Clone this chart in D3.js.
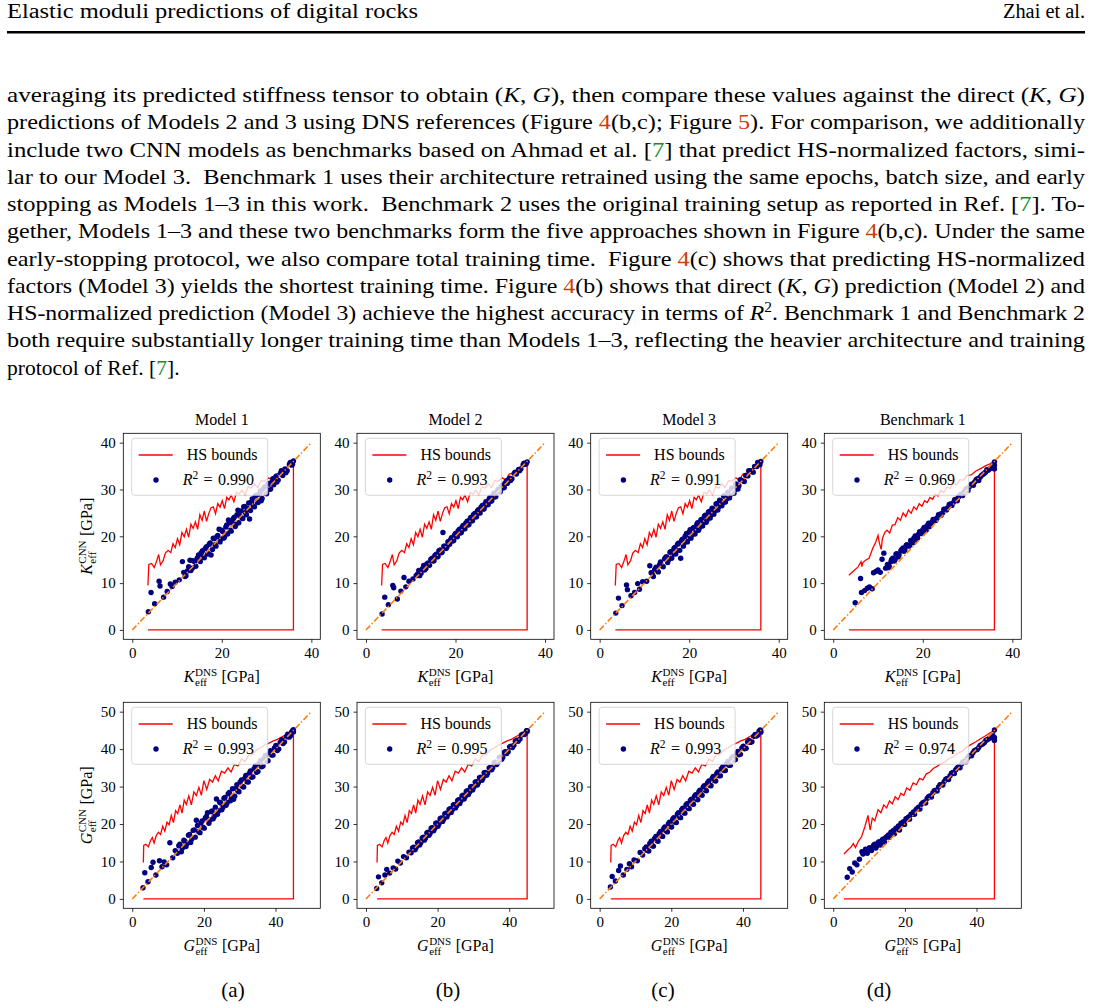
<!DOCTYPE html>
<html>
<head>
<meta charset="utf-8">
<script src="https://cdn.jsdelivr.net/npm/d3@7"></script>
<style>
  body { margin: 0; background: #fff; }
  svg { display: block; }
  text { font-family: "Liberation Serif", "DejaVu Serif", serif; fill: #000; white-space: pre; }
</style>
</head>
<body>
<svg id="page" width="1093" height="1008"></svg>
<script>

// ---- chart data ----

var colTitles = ['Model 1', 'Model 2', 'Model 3', 'Benchmark 1'];
var subLabels = ['(a)', '(b)', '(c)', '(d)'];
var r2K = ['0.990', '0.993', '0.991', '0.969'];
var r2G = ['0.993', '0.995', '0.993', '0.974'];

var kTicksX = [0, 20, 40];
var kTicksY = [0, 10, 20, 30, 40];
var gTicksX = [0, 20, 40];
var gTicksY = [0, 10, 20, 30, 40, 50];

var hsLower = 0; // lower HS bound of a porous rock

// bulk modulus, test set of Models 1-3
var kDns = [3.6, 4.2, 5.0, 6.0, 6.2, 7.0, 7.8, 8.5, 8.9, 9.6,
  10.5, 11.2, 11.8, 12.3, 12.9, 13.4, 13.9, 14.5, 15.0, 15.4,
  15.9, 16.3, 16.8, 17.2, 17.6, 18.1, 18.5, 18.9, 19.4, 19.8,
  20.2, 20.6, 21.1, 21.5, 21.9, 22.3, 22.8, 23.2, 23.6, 24.0,
  24.5, 24.9, 25.3, 25.7, 26.2, 26.6, 27.0, 27.5, 27.9, 28.4,
  28.8, 29.3, 29.7, 30.2, 30.6, 31.1, 31.6, 32.1, 32.6, 33.1,
  33.6, 34.1, 34.6, 35.1, 35.6, 36.0];
var kCnnModel1 = [3.9, 8.0, 5.6, 10.4, 9.4, 7.0, 8.2, 9.8, 9.3, 10.2,
  10.7, 14.6, 11.4, 12.6, 14.9, 13.2, 14.6, 15.3, 14.9, 16.5,
  15.6, 17.4, 16.2, 18.3, 16.0, 19.6, 18.2, 19.9, 21.5, 19.4,
  21.0, 19.8, 22.4, 23.5, 21.3, 22.9, 24.1, 22.6, 25.6, 24.4,
  23.9, 26.3, 25.1, 26.0, 23.7, 27.3, 26.5, 28.6, 27.4, 29.0,
  27.6, 30.1, 29.2, 30.9, 30.0, 31.5, 31.0, 32.8, 32.0, 33.5,
  33.0, 34.4, 34.0, 35.4, 35.2, 36.1];
var kCnnModel2 = [3.4, 7.0, 5.4, 9.5, 9.0, 6.6, 8.3, 11.2, 9.2, 10.4,
  10.9, 11.6, 12.7, 12.1, 13.8, 13.1, 14.3, 15.1, 14.7, 15.9,
  15.6, 16.9, 16.5, 20.8, 17.9, 17.7, 18.9, 19.3, 19.0, 20.3,
  20.0, 21.2, 20.7, 22.0, 21.6, 22.8, 22.4, 23.6, 23.3, 24.6,
  24.1, 25.4, 25.0, 26.2, 25.8, 26.9, 26.7, 27.9, 27.5, 28.9,
  28.4, 29.6, 29.5, 30.6, 30.3, 31.4, 31.3, 32.4, 32.3, 33.4,
  33.3, 34.3, 34.4, 35.3, 35.4, 35.9];
var kCnnModel3 = [3.6, 6.8, 5.2, 9.6, 8.6, 7.3, 8.0, 9.9, 8.7, 10.3,
  10.4, 13.7, 12.2, 12.9, 12.6, 14.0, 13.7, 15.2, 15.6, 15.0,
  16.7, 16.1, 17.6, 16.9, 18.5, 15.3, 19.4, 18.6, 20.6, 19.5,
  21.4, 20.3, 21.9, 21.2, 22.9, 21.8, 23.6, 23.0, 24.5, 23.5,
  25.3, 24.6, 25.9, 25.4, 27.0, 26.3, 27.6, 27.1, 28.6, 28.0,
  29.4, 29.0, 30.2, 29.9, 31.1, 30.8, 32.0, 31.8, 33.0, 32.9,
  34.0, 33.8, 34.9, 34.9, 35.7, 36.0];
// the dense middle of the same cloud
var kDnsDense = [11.5, 12.0, 12.6, 13.1, 13.6, 14.2, 14.8, 15.2, 15.7, 16.1,
  16.6, 17.0, 17.4, 17.9, 18.3, 18.7, 19.1, 19.6, 20.0, 20.4,
  20.9, 21.3, 21.7, 22.1, 22.6, 23.0, 23.4, 23.8, 24.3, 24.7,
  25.1, 25.5, 26.0, 26.4, 26.8, 27.3, 27.7, 28.1, 28.6, 29.0,
  29.5, 30.0, 30.4, 30.9, 31.4, 32.3, 33.3, 34.3, 35.3, 35.8];
var kCnnModel1Dense = [12.3, 11.6, 13.5, 12.7, 14.8, 13.6, 16.0, 14.6, 16.9, 15.4,
  17.8, 16.3, 18.6, 17.2, 19.5, 17.9, 20.2, 18.8, 21.3, 19.6,
  22.0, 20.5, 22.9, 21.1, 23.8, 22.1, 24.6, 22.9, 25.4, 23.8,
  26.4, 24.6, 27.1, 25.5, 28.0, 26.3, 28.8, 27.2, 29.7, 28.1,
  30.5, 29.1, 31.3, 30.1, 32.3, 31.6, 34.0, 33.6, 35.8, 35.4];
var kCnnModel2Dense = [11.9, 11.6, 13.1, 12.8, 14.1, 13.8, 15.3, 14.8, 16.2, 15.7,
  17.1, 16.6, 17.9, 17.4, 18.8, 18.3, 19.7, 19.1, 20.6, 19.9,
  21.5, 20.8, 22.3, 21.6, 23.2, 22.5, 24.0, 23.3, 24.9, 24.2,
  25.7, 25.0, 26.6, 25.9, 27.4, 26.8, 28.3, 27.6, 29.2, 28.5,
  30.0, 29.5, 30.9, 30.4, 31.9, 31.9, 33.7, 34.0, 35.6, 35.5];
var kCnnModel3Dense = [12.2, 11.4, 13.4, 12.4, 14.5, 13.5, 15.6, 14.4, 16.6, 15.3,
  17.4, 16.2, 18.3, 17.0, 19.1, 17.9, 20.0, 18.8, 20.9, 19.6,
  21.8, 20.5, 22.6, 21.3, 23.5, 22.2, 24.3, 23.0, 25.2, 23.9,
  26.0, 24.7, 26.9, 25.6, 27.7, 26.5, 28.6, 27.3, 29.4, 28.2,
  30.3, 29.2, 31.2, 30.1, 32.1, 31.7, 34.0, 33.7, 35.8, 35.3];
var hsKx = [3.5, 3.7, 4.3, 4.9, 5.4, 5.9, 6.3, 6.9, 7.4, 8.0,
  8.6, 9.1, 9.6, 10.1, 10.6, 11.1, 11.6, 12.1, 12.6, 13.1,
  13.6, 14.1, 14.6, 15.1, 15.6, 16.1, 16.6, 17.1, 17.6, 18.1,
  18.6, 19.1, 19.6, 20.1, 20.6, 21.1, 21.6, 22.1, 22.7, 23.3,
  23.9, 24.5, 25.2, 25.9, 26.6, 27.3, 28.0, 28.8, 29.6, 30.4,
  31.2, 32.0, 32.9, 33.8, 34.9, 36.0];
var hsKUpper = [9.5, 14.0, 14.2, 13.3, 14.6, 16.1, 13.9, 14.8, 16.4, 17.0,
  16.5, 18.4, 17.6, 19.5, 18.2, 20.8, 19.9, 21.5, 19.8, 22.6,
  21.7, 23.1, 21.5, 24.6, 23.4, 25.4, 23.2, 24.9, 26.1, 26.3,
  24.8, 27.0, 26.2, 27.6, 25.9, 28.3, 27.8, 28.8, 27.4, 29.4,
  29.0, 29.9, 28.8, 30.6, 30.3, 31.2, 30.4, 31.9, 31.8, 32.5,
  32.0, 33.3, 33.5, 34.3, 35.0, 36.0];

// bulk modulus, Benchmark 1
var kDnsBench = [4.9, 6.1, 6.3, 7.0, 7.6, 8.1, 8.7, 9.0, 9.5, 10.0,
  10.5, 10.9, 11.3, 11.7, 12.1, 12.5, 12.9, 13.3, 13.8, 14.2,
  14.7, 15.1, 15.6, 16.0, 16.5, 17.0, 17.5, 18.0, 18.5, 19.0,
  19.5, 20.0, 20.5, 21.0, 21.5, 22.0, 22.6, 23.2, 23.8, 24.4,
  25.0, 25.6, 26.2, 26.8, 27.4, 28.0, 28.6, 29.2, 29.8, 30.4,
  31.0, 31.6, 32.2, 32.8, 33.4, 34.0, 34.6, 35.2, 35.8, 36.0];
var kCnnBench1 = [5.8, 11.0, 8.0, 8.4, 8.9, 9.2, 8.8, 12.2, 12.5, 12.8,
  12.3, 15.1, 16.4, 13.2, 14.0, 13.6, 14.6, 15.3, 15.0, 16.3,
  16.0, 16.9, 17.5, 17.1, 18.2, 18.0, 19.0, 19.6, 19.3, 20.4,
  20.7, 21.4, 21.2, 22.3, 22.1, 23.0, 23.6, 23.9, 24.7, 25.0,
  25.8, 26.1, 26.9, 27.2, 27.9, 28.4, 29.0, 29.4, 30.2, 30.6,
  31.2, 31.6, 32.3, 32.6, 33.2, 33.7, 34.1, 34.6, 34.9, 35.9];
var kDnsBenchDense = [12.3, 13.0, 13.6, 14.0, 14.5, 15.3, 15.8, 16.3, 16.8, 17.3,
  17.8, 18.3, 18.8, 19.3, 19.8, 20.3, 20.8, 21.3, 21.8, 22.3,
  22.9, 23.5, 24.1, 24.7, 25.3, 25.9, 26.5, 27.1, 27.7, 28.3,
  28.9, 29.5, 30.1, 30.7, 31.3, 31.9, 32.5, 33.1, 33.7, 34.3,
  34.9, 35.5, 36.0, 36.0];
var kCnnBench1Dense = [13.3, 15.0, 14.7, 16.2, 15.6, 17.2, 16.8, 18.1, 17.9, 19.1,
  18.6, 20.1, 19.6, 21.0, 20.6, 21.9, 21.4, 22.8, 22.4, 23.6,
  23.4, 24.6, 24.5, 25.8, 25.6, 26.8, 26.6, 27.8, 27.6, 28.8,
  28.7, 29.9, 29.8, 31.0, 30.9, 32.1, 31.9, 33.0, 33.4, 34.2,
  34.4, 35.0, 34.4, 35.2];
var hsKxBench = [3.5, 4.5, 5.5, 6.2, 6.4, 6.6, 7.2, 8.0, 8.8, 9.5,
  10.0, 10.3, 10.7, 11.0, 11.5, 12.0, 12.6, 13.2, 13.8, 14.4,
  15.0, 15.6, 16.2, 16.8, 17.4, 18.0, 18.6, 19.2, 19.8, 20.4,
  21.0, 21.6, 22.2, 22.8, 23.4, 24.0, 24.7, 25.4, 26.1, 26.8,
  27.5, 28.3, 29.1, 29.9, 30.8, 31.8, 32.8, 33.9, 35.0, 36.0];
var hsKUpperBench = [11.7, 12.6, 13.4, 14.6, 13.5, 14.4, 14.9, 15.3, 17.4, 18.8,
  20.2, 18.6, 17.2, 19.6, 20.8, 21.3, 20.7, 22.4, 22.5, 24.0,
  23.4, 25.0, 24.2, 25.6, 24.9, 26.3, 25.7, 27.0, 26.4, 27.6,
  27.2, 28.3, 27.9, 29.0, 28.6, 29.8, 29.4, 30.5, 30.2, 31.3,
  31.0, 32.1, 32.0, 33.0, 33.1, 33.9, 34.4, 35.0, 35.5, 36.0];

// shear modulus, test set of Models 1-3
var gDns = [3.0, 3.5, 4.4, 5.3, 5.8, 6.6, 7.6, 8.3, 8.9, 9.6,
  10.5, 11.3, 12.0, 12.6, 13.3, 14.0, 14.7, 15.3, 16.0, 16.6,
  17.3, 17.9, 18.5, 19.2, 19.8, 20.4, 21.0, 21.7, 22.3, 22.9,
  23.5, 24.1, 24.7, 25.3, 25.9, 26.5, 27.1, 27.7, 28.3, 28.9,
  29.5, 30.1, 30.8, 31.4, 32.0, 32.7, 33.3, 34.0, 34.7, 35.4,
  36.1, 36.8, 37.5, 38.2, 38.9, 39.7, 40.5, 41.3, 42.1, 43.0,
  43.8, 44.5, 45.0];
var gCnnModel1 = [3.0, 7.0, 4.6, 8.4, 9.8, 6.4, 10.2, 8.6, 9.9, 9.1,
  15.0, 11.0, 12.9, 12.2, 14.6, 13.6, 15.4, 14.8, 17.2, 16.0,
  18.4, 21.0, 18.0, 20.3, 19.1, 21.6, 23.0, 21.1, 23.5, 22.0,
  26.7, 23.5, 25.6, 24.4, 27.1, 25.7, 28.4, 27.0, 26.6, 29.5,
  28.8, 31.2, 30.0, 32.2, 31.3, 33.6, 32.5, 34.8, 33.8, 36.1,
  35.3, 37.5, 36.9, 39.0, 38.4, 40.3, 39.6, 41.8, 41.5, 43.3,
  43.2, 44.6, 45.2];
var gCnnModel2 = [2.8, 5.9, 4.3, 6.4, 7.9, 6.9, 8.3, 8.0, 10.1, 9.6,
  11.3, 11.0, 12.5, 12.3, 13.8, 13.7, 15.2, 15.0, 16.5, 16.2,
  17.8, 17.5, 19.0, 18.8, 20.3, 20.1, 21.6, 21.3, 22.9, 22.6,
  24.1, 23.8, 25.2, 24.9, 26.5, 26.2, 27.7, 27.3, 28.9, 28.5,
  30.0, 29.8, 31.3, 31.0, 32.5, 32.3, 33.8, 33.6, 35.1, 35.0,
  36.5, 36.4, 37.9, 37.8, 39.3, 39.3, 40.8, 41.0, 42.4, 42.7,
  44.0, 44.2, 44.9];
var gCnnModel3 = [3.2, 6.0, 4.8, 7.6, 8.8, 6.4, 7.9, 9.4, 8.6, 10.4,
  10.2, 12.4, 11.7, 13.4, 12.9, 14.8, 14.2, 16.1, 15.6, 17.4,
  16.8, 18.8, 18.2, 20.1, 19.3, 21.3, 20.5, 22.6, 21.8, 23.8,
  23.0, 25.1, 24.2, 26.3, 25.4, 27.4, 26.6, 28.6, 27.9, 29.8,
  29.0, 31.0, 30.3, 32.2, 31.6, 33.5, 32.9, 34.8, 34.3, 36.1,
  35.7, 37.5, 37.1, 38.9, 38.5, 40.3, 40.1, 41.9, 41.8, 43.4,
  43.5, 44.8, 44.9];
var gDnsDense = [13.0, 13.7, 14.4, 15.0, 15.7, 16.3, 17.0, 17.6, 18.2, 18.9,
  19.5, 20.1, 20.7, 21.4, 22.0, 22.6, 23.2, 23.8, 24.4, 25.0,
  25.6, 26.2, 26.8, 27.4, 28.0, 28.6, 29.2, 29.8, 30.5, 31.1,
  31.7, 32.4, 33.0, 33.7, 34.4, 35.1, 35.8, 36.5, 37.2, 37.9,
  38.6, 39.3, 40.1, 40.9, 41.7, 42.5, 43.4, 44.2, 44.8, 45.0];
var gCnnModel1Dense = [14.2, 12.6, 15.7, 14.0, 17.0, 15.1, 18.3, 16.5, 19.6, 17.7,
  20.8, 18.9, 22.0, 20.2, 23.3, 21.4, 24.5, 22.6, 25.8, 23.8,
  26.9, 25.0, 28.1, 26.2, 29.4, 27.4, 30.5, 28.6, 31.8, 29.9,
  33.0, 31.2, 34.2, 32.6, 35.6, 34.0, 36.9, 35.5, 38.3, 36.9,
  39.6, 38.4, 41.0, 40.0, 42.5, 41.9, 44.0, 43.6, 45.0, 44.6];
var gCnnModel2Dense = [13.6, 13.1, 15.0, 14.4, 16.3, 15.7, 17.6, 17.0, 18.9, 18.2,
  20.2, 19.4, 21.4, 20.7, 22.7, 21.9, 23.9, 23.1, 25.1, 24.3,
  26.3, 25.5, 27.5, 26.7, 28.7, 27.9, 29.9, 29.1, 31.2, 30.4,
  32.4, 31.7, 33.7, 33.0, 35.0, 34.5, 36.4, 35.9, 37.8, 37.3,
  39.1, 38.8, 40.6, 40.4, 42.1, 42.1, 43.8, 43.9, 44.9, 44.7];
var gCnnModel3Dense = [13.9, 12.8, 15.4, 14.1, 16.7, 15.4, 18.0, 16.7, 19.2, 17.9,
  20.5, 19.2, 21.7, 20.4, 23.0, 21.7, 24.2, 22.9, 25.4, 24.1,
  26.6, 25.3, 27.8, 26.5, 29.0, 27.7, 30.2, 28.9, 31.5, 30.2,
  32.7, 31.5, 33.9, 32.9, 35.3, 34.3, 36.7, 35.7, 38.0, 37.2,
  39.4, 38.6, 40.8, 40.2, 42.3, 42.0, 43.9, 43.8, 45.1, 44.5];
var hsGx = [3.1, 3.2, 3.8, 4.5, 5.1, 5.6, 6.1, 6.7, 7.3, 7.9,
  8.5, 9.1, 9.7, 10.3, 10.9, 11.5, 12.1, 12.7, 13.3, 13.9,
  14.5, 15.1, 15.8, 16.5, 17.2, 17.9, 18.6, 19.3, 20.0, 20.8,
  21.6, 22.4, 23.2, 24.0, 24.9, 25.8, 26.7, 27.6, 28.5, 29.5,
  30.5, 31.5, 32.5, 33.6, 34.7, 35.8, 37.0, 38.2, 39.4, 40.6,
  41.8, 43.0, 44.1, 45.0];
var hsGUpper = [9.7, 14.3, 14.6, 13.9, 15.6, 16.4, 14.9, 16.9, 17.8, 17.2,
  19.4, 18.1, 20.5, 19.8, 22.3, 20.4, 23.6, 22.8, 25.1, 22.9,
  26.4, 25.2, 27.5, 25.1, 28.6, 27.6, 29.8, 27.7, 31.6, 29.2,
  31.9, 31.2, 32.9, 31.5, 34.1, 33.6, 35.0, 33.9, 35.9, 35.5,
  37.4, 36.7, 38.4, 38.6, 39.8, 40.3, 41.1, 41.6, 42.2, 42.6,
  43.3, 43.9, 44.5, 45.0];

// shear modulus, Benchmark 1
var gDnsBench = [3.9, 4.6, 5.3, 6.0, 6.6, 7.3, 8.0, 8.6, 9.2, 9.8,
  10.4, 11.0, 11.6, 12.2, 12.8, 13.4, 14.0, 14.7, 15.4, 16.1,
  16.8, 17.5, 18.2, 18.9, 19.6, 20.3, 21.0, 21.7, 22.4, 23.1,
  23.8, 24.6, 25.4, 26.2, 27.0, 27.8, 28.6, 29.4, 30.2, 31.0,
  31.8, 32.6, 33.4, 34.2, 35.0, 35.8, 36.6, 37.4, 38.2, 39.0,
  39.8, 40.6, 41.4, 42.2, 43.0, 43.8, 44.5, 45.0, 45.0, 45.0];
var gCnnBench1 = [5.8, 8.1, 7.2, 9.6, 9.1, 10.6, 12.6, 12.4, 12.9, 13.1,
  13.3, 13.8, 14.6, 14.2, 15.3, 15.1, 16.0, 16.4, 17.1, 17.8,
  18.3, 18.9, 19.5, 20.2, 20.6, 21.4, 21.9, 22.6, 23.2, 23.8,
  24.5, 25.3, 25.9, 26.8, 27.5, 28.3, 29.0, 29.9, 30.6, 31.4,
  32.2, 32.9, 33.8, 34.5, 35.3, 36.0, 36.8, 37.5, 38.3, 39.0,
  39.8, 40.4, 41.2, 41.8, 42.5, 43.0, 43.6, 45.1, 43.1, 42.3];
var gDnsBenchDense = [8.3, 9.0, 9.5, 10.1, 10.7, 11.3, 11.9, 12.5, 13.1, 13.7,
  14.3, 15.0, 15.7, 16.4, 17.1, 17.8, 18.5, 19.2, 19.9, 20.6,
  21.3, 22.0, 22.7, 23.4, 24.2, 25.0, 25.8, 26.6, 27.4, 28.2,
  29.0, 29.8, 30.6, 31.4, 32.2, 33.0, 33.8, 34.6, 35.4, 36.2,
  37.0, 37.8, 38.6, 39.4, 40.2, 41.0, 41.8, 42.6, 43.4, 44.2];
var gCnnBench1Dense = [12.0, 13.3, 12.2, 13.7, 12.9, 14.4, 13.6, 15.0, 14.4, 15.8,
  15.2, 16.7, 16.5, 17.6, 17.4, 18.7, 18.4, 20.0, 19.9, 21.2,
  21.3, 22.6, 22.6, 24.1, 24.0, 25.7, 25.6, 27.3, 27.2, 28.9,
  28.8, 30.5, 30.4, 32.0, 31.9, 33.6, 33.5, 35.0, 35.0, 36.6,
  36.6, 38.1, 38.2, 39.6, 39.9, 41.0, 41.4, 42.4, 42.8, 43.4];
var hsGxBench = [3.0, 4.0, 5.0, 5.6, 6.2, 7.0, 7.9, 8.8, 9.7, 10.3,
  10.9, 11.6, 12.5, 13.3, 14.1, 14.9, 15.7, 16.5, 17.3, 18.1,
  18.9, 19.7, 20.5, 21.4, 22.3, 23.2, 24.1, 25.0, 26.0, 27.0,
  28.0, 29.0, 30.1, 31.2, 32.3, 33.5, 34.7, 35.9, 37.1, 38.4,
  39.7, 41.0, 42.4, 43.7, 45.0];
var hsGUpperBench = [12.0, 13.0, 13.9, 14.8, 13.7, 15.4, 16.6, 19.2, 22.3, 18.4,
  21.6, 20.9, 23.8, 23.0, 25.1, 24.3, 26.2, 25.4, 27.3, 26.5,
  28.2, 27.6, 29.6, 29.0, 31.0, 30.5, 32.2, 31.8, 33.4, 33.9,
  34.9, 35.4, 36.2, 36.6, 37.5, 37.9, 38.9, 39.4, 40.4, 41.2,
  41.9, 42.7, 43.5, 44.3, 45.0];

// ---- page text ----

var bodyLines = [
  [['averaging its predicted stiffness tensor to obtain ('], ['K', 'it'], [', '], ['G', 'it'], ['), then compare these values against the direct ('], ['K', 'it'], [', '], ['G', 'it'], [')']],
  [['predictions of Models 2 and 3 using DNS references (Figure '], ['4', 'fig'], ['(b,c); Figure '], ['5', 'fig'], ['). For comparison, we additionally']],
  [['include two CNN models as benchmarks based on Ahmad et al. ['], ['7', 'cite'], ['] that predict HS-normalized factors, simi-']],
  [['lar to our Model 3.  Benchmark 1 uses their architecture retrained using the same epochs, batch size, and early']],
  [['stopping as Models 1\u20133 in this work.  Benchmark 2 uses the original training setup as reported in Ref. ['], ['7', 'cite'], [']. To-']],
  [['gether, Models 1\u20133 and these two benchmarks form the five approaches shown in Figure '], ['4', 'fig'], ['(b,c). Under the same']],
  [['early-stopping protocol, we also compare total training time.  Figure '], ['4', 'fig'], ['(c) shows that predicting HS-normalized']],
  [['factors (Model 3) yields the shortest training time. Figure '], ['4', 'fig'], ['(b) shows that direct ('], ['K', 'it'], [', '], ['G', 'it'], [') prediction (Model 2) and']],
  [['HS-normalized prediction (Model 3) achieve the highest accuracy in terms of '], ['R', 'it'], ['2', 'sup'], ['. Benchmark 1 and Benchmark 2']],
  [['both require substantially longer training time than Models 1\u20133, reflecting the heavier architecture and training']],
  [['protocol of Ref. ['], ['7', 'cite'], ['].']]
];

var figColor = '#c8400c';
var citeColor = '#1d8a1d';

var svg = d3.select('#page');

svg.append('rect').attr('width', 1093).attr('height', 1008).attr('fill', '#fff');

// running header
svg.append('text')
  .attr('x', 7).attr('y', 18)
  .style('font-size', '20px')
  .attr('textLength', 411).attr('lengthAdjust', 'spacingAndGlyphs')
  .text('Elastic moduli predictions of digital rocks');
svg.append('text')
  .attr('x', 1003).attr('y', 18)
  .style('font-size', '20px')
  .attr('textLength', 82).attr('lengthAdjust', 'spacingAndGlyphs')
  .text('Zhai et al.');
svg.append('rect')
  .attr('x', 7).attr('y', 31).attr('width', 1078).attr('height', 2.5)
  .attr('fill', '#000');

// paragraph, one justified line at a time
bodyLines.forEach(function (segs, i) {
  var t = svg.append('text')
    .attr('x', 7)
    .attr('y', 102 + i * 27.25)
    .style('font-size', '21.5px');
  var raised = false;
  segs.forEach(function (s) {
    var ts = t.append('tspan').text(s[0]);
    if (raised) { ts.attr('dy', 8); raised = false; }
    if (s[1] === 'it') ts.style('font-style', 'italic');
    if (s[1] === 'fig') ts.style('fill', figColor);
    if (s[1] === 'cite') ts.style('fill', citeColor);
    if (s[1] === 'sup') { ts.attr('dy', -8).style('font-size', '14px'); raised = true; }
  });
  if (i < bodyLines.length - 1) {
    t.attr('textLength', 1078).attr('lengthAdjust', 'spacingAndGlyphs');
  }
});

// ---- figure ----

var colLeft = [123.3, 357, 590.7, 824.3];
var axW = 197, axH = 206;
var navy = '#000080';

var rows = [
  {
    top: 433.3, sym: 'K', domain: [-2, 42], diagMax: 40,
    xTicks: kTicksX, yTicks: kTicksY, r2: r2K,
    sets: [
      [kDns.concat(kDnsDense), kCnnModel1.concat(kCnnModel1Dense), hsKx, hsKUpper],
      [kDns.concat(kDnsDense), kCnnModel2.concat(kCnnModel2Dense), hsKx, hsKUpper],
      [kDns.concat(kDnsDense), kCnnModel3.concat(kCnnModel3Dense), hsKx, hsKUpper],
      [kDnsBench.concat(kDnsBenchDense), kCnnBench1.concat(kCnnBench1Dense), hsKxBench, hsKUpperBench]
    ]
  },
  {
    top: 702.3, sym: 'G', domain: [-2.5, 52.5], diagMax: 50,
    xTicks: gTicksX, yTicks: gTicksY, r2: r2G,
    sets: [
      [gDns.concat(gDnsDense), gCnnModel1.concat(gCnnModel1Dense), hsGx, hsGUpper],
      [gDns.concat(gDnsDense), gCnnModel2.concat(gCnnModel2Dense), hsGx, hsGUpper],
      [gDns.concat(gDnsDense), gCnnModel3.concat(gCnnModel3Dense), hsGx, hsGUpper],
      [gDnsBench.concat(gDnsBenchDense), gCnnBench1.concat(gCnnBench1Dense), hsGxBench, hsGUpperBench]
    ]
  }
];

// symbol with stacked sub/superscript, e.g. K_eff^DNS [GPa], centred on 0
var mathLabel = function (g, sym, sup) {
  var inner = g.append('g');
  var t1 = inner.append('text').style('font-style', 'italic').style('font-size', '16px').text(sym);
  var w1 = t1.node().getComputedTextLength();
  var sb = inner.append('text').attr('x', w1 + 0.5).attr('y', 4).style('font-size', '11px').text('eff');
  var sp = inner.append('text').attr('x', w1 + 0.5).attr('y', -6.5).style('font-size', '11px').text(sup);
  var w2 = Math.max(sb.node().getComputedTextLength(), sp.node().getComputedTextLength());
  var tail = inner.append('text').attr('x', w1 + w2 + 5).style('font-size', '16px').text('[GPa]');
  var total = w1 + w2 + 5 + tail.node().getComputedTextLength();
  inner.attr('transform', 'translate(' + (-total / 2) + ',0)');
};

var drawPanel = function (row, c) {
  var set = row.sets[c];
  var left = colLeft[c];
  var g = svg.append('g').attr('transform', 'translate(' + left + ',' + row.top + ')');

  var x = d3.scaleLinear().domain(row.domain).range([0, axW]);
  var y = d3.scaleLinear().domain(row.domain).range([axH, 0]);

  // HS bounds: upper bound along sorted DNS values, then back along the lower bound
  var hs = set[2].map(function (v, i) { return [v, set[3][i]]; });
  hs.push([set[2][set[2].length - 1], hsLower]);
  hs.push([set[2][0], hsLower]);
  g.append('path')
    .datum(hs)
    .attr('fill', 'none')
    .attr('stroke', '#ff0000')
    .attr('stroke-width', 1.3)
    .attr('d', d3.line().x(function (d) { return x(d[0]); }).y(function (d) { return y(d[1]); }));

  g.append('g').selectAll('circle')
    .data(set[0].map(function (v, i) { return [v, set[1][i]]; }))
    .join('circle')
    .attr('cx', function (d) { return x(d[0]); })
    .attr('cy', function (d) { return y(d[1]); })
    .attr('r', 2.7)
    .attr('fill', navy);

  g.append('line')
    .attr('x1', x(0)).attr('y1', y(0))
    .attr('x2', x(row.diagMax)).attr('y2', y(row.diagMax))
    .attr('stroke', '#ff7f0e')
    .attr('stroke-width', 1.6)
    .attr('stroke-dasharray', '6,2.2,1.4,2.2');

  // axes
  var xAxis = g.append('g')
    .attr('transform', 'translate(0,' + axH + ')')
    .call(d3.axisBottom(x).tickValues(row.xTicks).tickSize(3.5).tickPadding(5).tickFormat(d3.format('d')));
  var yAxis = g.append('g')
    .call(d3.axisLeft(y).tickValues(row.yTicks).tickSize(3.5).tickPadding(4).tickFormat(d3.format('d')));
  [xAxis, yAxis].forEach(function (a) {
    a.attr('font-family', null).attr('font-size', null);
    a.select('.domain').remove();
    a.selectAll('line').attr('stroke', '#000').attr('stroke-width', 0.8);
    a.selectAll('text').style('font-size', '15px');
  });

  g.append('rect')
    .attr('width', axW).attr('height', axH)
    .attr('fill', 'none').attr('stroke', '#000').attr('stroke-width', 0.8);

  // legend
  var lg = g.append('g');
  lg.append('rect')
    .attr('x', 8.4).attr('y', 5).attr('width', 136).attr('height', 57).attr('rx', 3)
    .attr('fill', '#fff').attr('fill-opacity', 0.8)
    .attr('stroke', '#cccccc').attr('stroke-width', 0.8);
  lg.append('line')
    .attr('x1', 15.4).attr('x2', 49.4).attr('y1', 21.7).attr('y2', 21.7)
    .attr('stroke', '#ff0000').attr('stroke-width', 1.3);
  lg.append('text').attr('x', 63.4).attr('y', 27).style('font-size', '16px').text('HS bounds');
  lg.append('circle').attr('cx', 32.7).attr('cy', 46.7).attr('r', 2.7).attr('fill', navy);
  var rt = lg.append('text').attr('x', 59.4).attr('y', 52).style('font-size', '16px');
  rt.append('tspan').style('font-style', 'italic').text('R');
  rt.append('tspan').attr('dy', -6.5).style('font-size', '11.5px').text('2');
  rt.append('tspan').attr('dy', 6.5).text('\u2004=\u2004' + row.r2[c]);

  // labels
  if (row.top < 500) {
    g.append('text')
      .attr('x', axW / 2).attr('y', -8.3)
      .attr('text-anchor', 'middle')
      .style('font-size', '16px')
      .text(colTitles[c]);
  }
  mathLabel(g.append('g').attr('transform', 'translate(' + axW / 2 + ',' + (axH + 43) + ')'), row.sym, 'DNS');
  if (c === 0) {
    mathLabel(g.append('g').attr('transform', 'translate(-31,' + axH / 2 + ') rotate(-90)'), row.sym, 'CNN');
  }
};

rows.forEach(function (row) {
  colTitles.forEach(function (t, c) { drawPanel(row, c); });
});

var subX = [233, 448, 663, 879];
subLabels.forEach(function (s, i) {
  svg.append('text')
    .attr('x', subX[i]).attr('y', 997)
    .attr('text-anchor', 'middle')
    .style('font-size', '21px')
    .text(s);
});

</script>
</body>
</html>
